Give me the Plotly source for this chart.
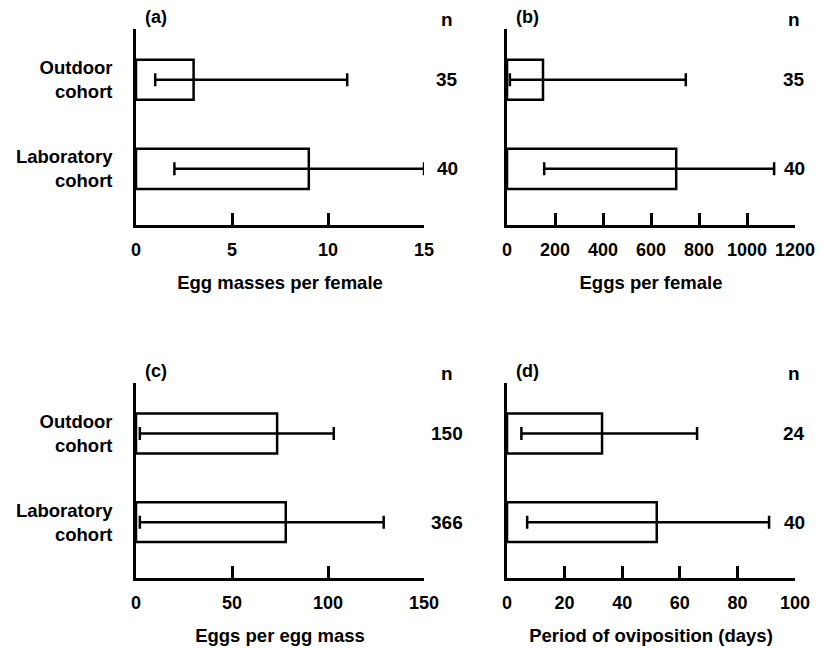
import plotly.graph_objects as go

# ---- data ----
categories = ["Laboratory<br>cohort", "Outdoor<br>cohort"]

# (a) Egg masses per female
a_mean = [9, 3]
a_low = [2, 1]
a_high = [15, 11]
a_n = ["40", "35"]

# (b) Eggs per female
b_mean = [705, 150]
b_low = [155, 12]
b_high = [1113, 745]
b_n = ["40", "35"]

# (c) Eggs per egg mass
c_mean = [78, 73.5]
c_low = [2, 2]
c_high = [129, 103]
c_n = ["366", "150"]

# (d) Period of oviposition (days)
d_mean = [52, 33]
d_low = [7, 5]
d_high = [91, 66]
d_n = ["40", "24"]

panel_letters = ["(a)", "(b)", "(c)", "(d)"]
x_titles = ["Egg masses per female", "Eggs per female",
            "Eggs per egg mass", "Period of oviposition (days)"]
x_ranges = [[0, 15], [0, 1200], [0, 150], [0, 100]]
x_dticks = [5, 200, 50, 20]

# page has an 8px body margin, so the figure is drawn at (8, 8)
OFF = 8
W, H = 828 - OFF, 648 - OFF
FONT = "Liberation Sans, Arial, sans-serif"

def px_x(p):
    return (p - OFF) / W

def px_y(p):
    return 1 - (p - OFF) / H

# panel domains (from window pixel positions)
x_doms = [[px_x(136), px_x(424)], [px_x(507), px_x(795)],
          [px_x(136), px_x(424)], [px_x(507), px_x(795)]]
y_doms = [[px_y(225), px_y(29)], [px_y(225), px_y(29)],
          [px_y(578), px_y(383)], [px_y(578), px_y(383)]]

panels = [(a_mean, a_low, a_high, a_n), (b_mean, b_low, b_high, b_n),
          (c_mean, c_low, c_high, c_n), (d_mean, d_low, d_high, d_n)]

fig = go.Figure()
layout = {}
annotations = []

for i, (mean, low, high, nvals) in enumerate(panels):
    k = "" if i == 0 else str(i + 1)
    xa, ya = "x" + k, "y" + k
    plus = [h - m for h, m in zip(high, mean)]
    minus = [m - l for m, l in zip(mean, low)]
    fig.add_trace(go.Bar(
        x=mean, y=categories, orientation="h", xaxis=xa, yaxis=ya,
        width=0.45,
        marker=dict(color="white", line=dict(color="black", width=2.5)),
        error_x=dict(type="data", symmetric=False, array=plus, arrayminus=minus,
                     color="black", thickness=2.5, width=6.5),
        showlegend=False, hoverinfo="skip",
    ))
    layout["xaxis" + k] = dict(
        domain=x_doms[i], anchor=ya, range=x_ranges[i], dtick=x_dticks[i],
        tick0=0, showline=True, linecolor="black", linewidth=2.5,
        ticks="inside", ticklen=12, tickwidth=2.5, tickcolor="black",
        showgrid=False, zeroline=False, fixedrange=True, automargin=False,
        ticklabelstandoff=7,
        tickfont=dict(family=FONT, size=18, color="black"),
        title=dict(text="<b>" + x_titles[i] + "</b>", standoff=17,
                   font=dict(family=FONT, size=18.5, color="black")),
        tickprefix="<b>", ticksuffix="</b>",
    )
    layout["yaxis" + k] = dict(
        domain=y_doms[i], anchor=xa, type="category",
        categoryorder="array", categoryarray=categories,
        range=[-0.63, 1.57], showline=True, linecolor="black", linewidth=2.5,
        ticks="", showgrid=False, zeroline=False, fixedrange=True,
        automargin=False,
        showticklabels=(i % 2 == 0), ticklabelstandoff=17,
        tickfont=dict(family=FONT, size=18.5, color="black"),
        tickprefix="<b>", ticksuffix="</b>",
    )
    # panel letter
    top_px = 17 if i < 2 else 371
    annotations.append(dict(
        text="<b>" + panel_letters[i] + "</b>", x=px_x(156 if i % 2 == 0 else 527),
        y=px_y(top_px), xref="paper", yref="paper", showarrow=False,
        xanchor="center", yanchor="middle",
        font=dict(family=FONT, size=18, color="black")))
    # n header and n values
    nx = px_x(447) if i % 2 == 0 else px_x(794)
    annotations.append(dict(
        text="<b>n</b>", x=nx, y=px_y(top_px + 2), xref="paper", yref="paper",
        showarrow=False, xanchor="center", yanchor="middle",
        font=dict(family=FONT, size=19, color="black")))
    for cat, nv in zip(categories, nvals):
        annotations.append(dict(
            text="<b>" + nv + "</b>", x=nx, y=cat, xref="paper", yref=ya,
            showarrow=False, xanchor="center", yanchor="middle",
            font=dict(family=FONT, size=19, color="black")))

fig.update_layout(
    width=W, height=H, margin=dict(l=0, r=0, t=0, b=0, autoexpand=False),
    plot_bgcolor="white", paper_bgcolor="white",
    annotations=annotations, bargap=0.5,
    font=dict(family=FONT, color="black"),
    **layout,
)

fig.write_html("out.html")
